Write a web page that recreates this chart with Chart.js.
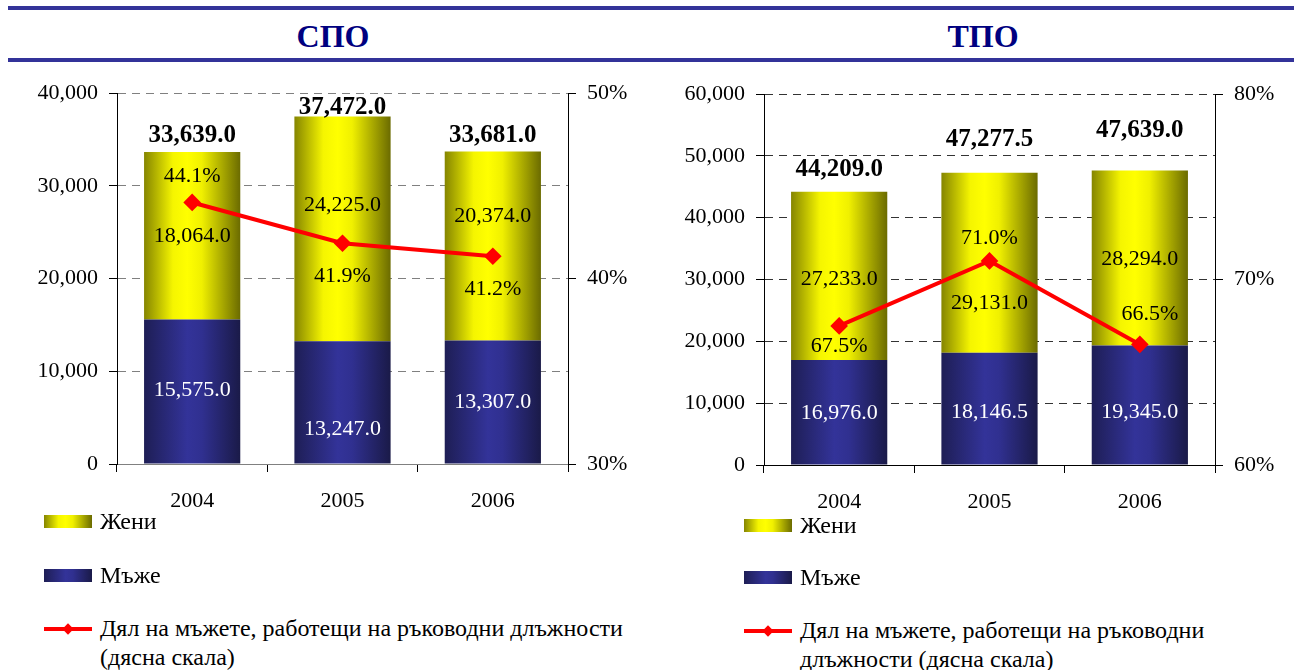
<!DOCTYPE html>
<html>
<head>
<meta charset="utf-8">
<script src="https://cdn.jsdelivr.net/npm/chart.js@4.4.0/dist/chart.umd.min.js"></script>
<style>
  body { margin: 0; background: #fff; font-family: 'Liberation Serif', 'Times New Roman', serif; }
  #page { position: relative; width: 1294px; height: 670px; overflow: hidden; background: #fff; }
  .rule { position: absolute; left: 8px; right: 0; height: 4px; background: #333399; }
  .title { position: absolute; top: 20px; width: 200px; text-align: center; font: bold 32px/32px 'Liberation Serif', serif; color: #000080; }
  canvas { position: absolute; top: 62px; }
  .leg { position: absolute; display: flex; align-items: flex-start; font-size: 24px; line-height: 29px; color: #000; white-space: nowrap; }
  .sw { width: 48px; height: 13px; margin-top: 8px; margin-right: 8px; flex: none; }
  .sw.women { background: linear-gradient(to right, #858500, #f5f500 30%, #ffff00 45%, #f0f000 60%, #6b6b00); }
  .sw.men { background: linear-gradient(to right, #1e1e55, #333399 45%, #303090 60%, #1a1a48); }
  .sw.line { height: 29px; margin-top: 0; position: relative; }
  .sw.line::before { content: ''; position: absolute; left: 0; right: 0; top: 12.5px; height: 4px; background: #f00; }
  .sw.line::after { content: ''; position: absolute; left: 20px; top: 10.5px; width: 8px; height: 8px; background: #f00; transform: rotate(45deg); }
</style>
</head>
<body>
<div id="page">
  <div class="rule" style="top:6px"></div>
  <div class="rule" style="top:58px"></div>
  <div class="title" style="left:233px">СПО</div>
  <div class="title" style="left:883px">ТПО</div>

  <canvas id="spoChart" width="647" height="455" style="left:0"></canvas>
  <canvas id="tpoChart" width="647" height="455" style="left:647px"></canvas>

  <div class="leg" style="left:44px;top:507px"><div class="sw women"></div><div>Жени</div></div>
  <div class="leg" style="left:44px;top:561px"><div class="sw men"></div><div>Мъже</div></div>
  <div class="leg" style="left:44px;top:614px"><div class="sw line"></div><div>Дял на мъжете, работещи на ръководни длъжности<br>(дясна скала)</div></div>

  <div class="leg" style="left:744px;top:511px"><div class="sw women"></div><div>Жени</div></div>
  <div class="leg" style="left:744px;top:563px"><div class="sw men"></div><div>Мъже</div></div>
  <div class="leg" style="left:744px;top:616px"><div class="sw line"></div><div>Дял на мъжете, работещи на ръководни<br>длъжности (дясна скала)</div></div>
</div>

<script>
const years = ['2004', '2005', '2006'];

// СПО
const spoMen = [15575, 13247, 13307];
const spoWomen = [18064, 24225, 20374];
const spoShare = [44.1, 41.9, 41.2];

// ТПО
const tpoMen = [16976, 18146.5, 19345];
const tpoWomen = [27233, 29131, 28294];
const tpoShare = [67.5, 71.0, 66.5];

// label nudges (px), per chart
const spoNudge = { total: [16, 9, 16], women: [0, -24, -30], men: [-1, 27, 0], share: [-26, 33, 33], shareX: [0, 0, 0] };
const tpoNudge = { total: [22, 33, 40], women: [3, 40, 1], men: [1, 4, 7], share: [20, -23, -30], shareX: [0, 0, 10] };

const FONT = "'Liberation Serif', 'Times New Roman', serif";
const BAR_PCT = 0.64;

function barGradient(stops, fallback) {
    return (ctx) => {
        const chart = ctx.chart;
        const xs = chart.scales.x;
        if (!xs || !chart.chartArea || ctx.dataIndex === undefined) return fallback;
        const cx = xs.getPixelForValue(ctx.dataIndex);
        const half = xs.width / years.length * BAR_PCT / 2;
        const g = chart.ctx.createLinearGradient(cx - half, 0, cx + half, 0);
        stops.forEach(s => g.addColorStop(s[0], s[1]));
        return g;
    };
}

const fmt1 = v => v.toLocaleString('en-US', { minimumFractionDigits: 1, maximumFractionDigits: 1 });

const labelPlugin = {
    id: 'barLabels',
    afterDatasetsDraw(chart, args, opts) {
        const ctx = chart.ctx;
        const men = chart.getDatasetMeta(0).data;
        const women = chart.getDatasetMeta(1).data;
        const pts = chart.getDatasetMeta(2).data;
        const ds = chart.data.datasets;
        const n = opts.nudge;
        ctx.save();
        ctx.textAlign = 'center';
        ctx.textBaseline = 'middle';
        years.forEach((y, i) => {
            const total = ds[0].data[i] + ds[1].data[i];
            ctx.font = 'bold 25px ' + FONT;
            ctx.fillStyle = '#000';
            ctx.fillText(fmt1(total), women[i].x, women[i].y - n.total[i]);

            ctx.font = '22px ' + FONT;
            ctx.fillText(fmt1(ds[1].data[i]), women[i].x, (women[i].y + women[i].base) / 2 + n.women[i]);
            ctx.fillText(ds[2].data[i].toFixed(1) + '%', pts[i].x + n.shareX[i], pts[i].y + n.share[i]);

            ctx.fillStyle = '#fff';
            ctx.fillText(fmt1(ds[0].data[i]), men[i].x, (men[i].y + men[i].base) / 2 + n.men[i]);
        });
        ctx.restore();
    }
};

function makeChart(id, men, women, share, opt) {
    const tickFont = { family: FONT, size: 22 };
    return new Chart(document.getElementById(id), {
        type: 'bar',
        data: {
            labels: years,
            datasets: [
                {
                    label: 'Мъже',
                    data: men,
                    backgroundColor: barGradient([[0, '#1e1e55'], [0.45, '#333399'], [0.6, '#303090'], [1, '#1a1a48']], '#333399'),
                    borderWidth: 0,
                    order: 2
                },
                {
                    label: 'Жени',
                    data: women,
                    backgroundColor: barGradient([[0, '#858500'], [0.3, '#f5f500'], [0.45, '#ffff00'], [0.6, '#f0f000'], [1, '#6b6b00']], '#ffff00'),
                    borderWidth: 0,
                    order: 2
                },
                {
                    type: 'line',
                    label: 'Дял на мъжете, работещи на ръководни длъжности (дясна скала)',
                    data: share,
                    yAxisID: 'y1',
                    borderColor: '#ff0000',
                    backgroundColor: '#ff0000',
                    borderWidth: 4,
                    pointStyle: 'rectRot',
                    pointRadius: 6,
                    tension: 0,
                    order: 0
                }
            ]
        },
        options: {
            responsive: false,
            animation: false,
            categoryPercentage: 1,
            barPercentage: BAR_PCT,
            layout: { padding: { top: opt.top, left: 0, right: 0, bottom: 0 } },
            plugins: {
                legend: { display: false },
                tooltip: { enabled: false },
                barLabels: { nudge: opt.nudge }
            },
            scales: {
                x: {
                    stacked: true,
                    grid: { drawOnChartArea: false, offset: true, tickLength: 8, color: '#000' },
                    border: { color: opt.axisColor },
                    ticks: { color: '#000', font: tickFont, padding: 16 },
                    afterFit(s) { s.height = opt.xHeight; }
                },
                y: {
                    stacked: true,
                    min: 0,
                    max: opt.leftMax,
                    ticks: {
                        stepSize: 10000, color: '#000', font: tickFont, padding: 11,
                        callback: v => v.toLocaleString('en-US')
                    },
                    grid: { color: opt.gridColor, tickLength: 8, tickColor: '#000' },
                    border: { color: '#000', dash: [8, 6] },
                    afterFit(s) { s.width = 117; }
                },
                y1: {
                    position: 'right',
                    min: opt.rightMin,
                    max: opt.rightMax,
                    ticks: { stepSize: 10, color: '#000', font: tickFont, padding: 11, callback: v => v + '%' },
                    grid: { drawOnChartArea: false, tickLength: 8, color: '#000' },
                    border: { color: '#000' },
                    afterFit(s) { s.width = 79; }
                }
            }
        },
        plugins: [labelPlugin]
    });
}

makeChart('spoChart', spoMen, spoWomen, spoShare, {
    top: 31, xHeight: 53, leftMax: 40000, rightMin: 30, rightMax: 50,
    gridColor: '#808080', axisColor: '#808080', nudge: spoNudge
});
makeChart('tpoChart', tpoMen, tpoWomen, tpoShare, {
    top: 32, xHeight: 52, leftMax: 60000, rightMin: 60, rightMax: 80,
    gridColor: '#333333', axisColor: '#000', nudge: tpoNudge
});
</script>
</body>
</html>
